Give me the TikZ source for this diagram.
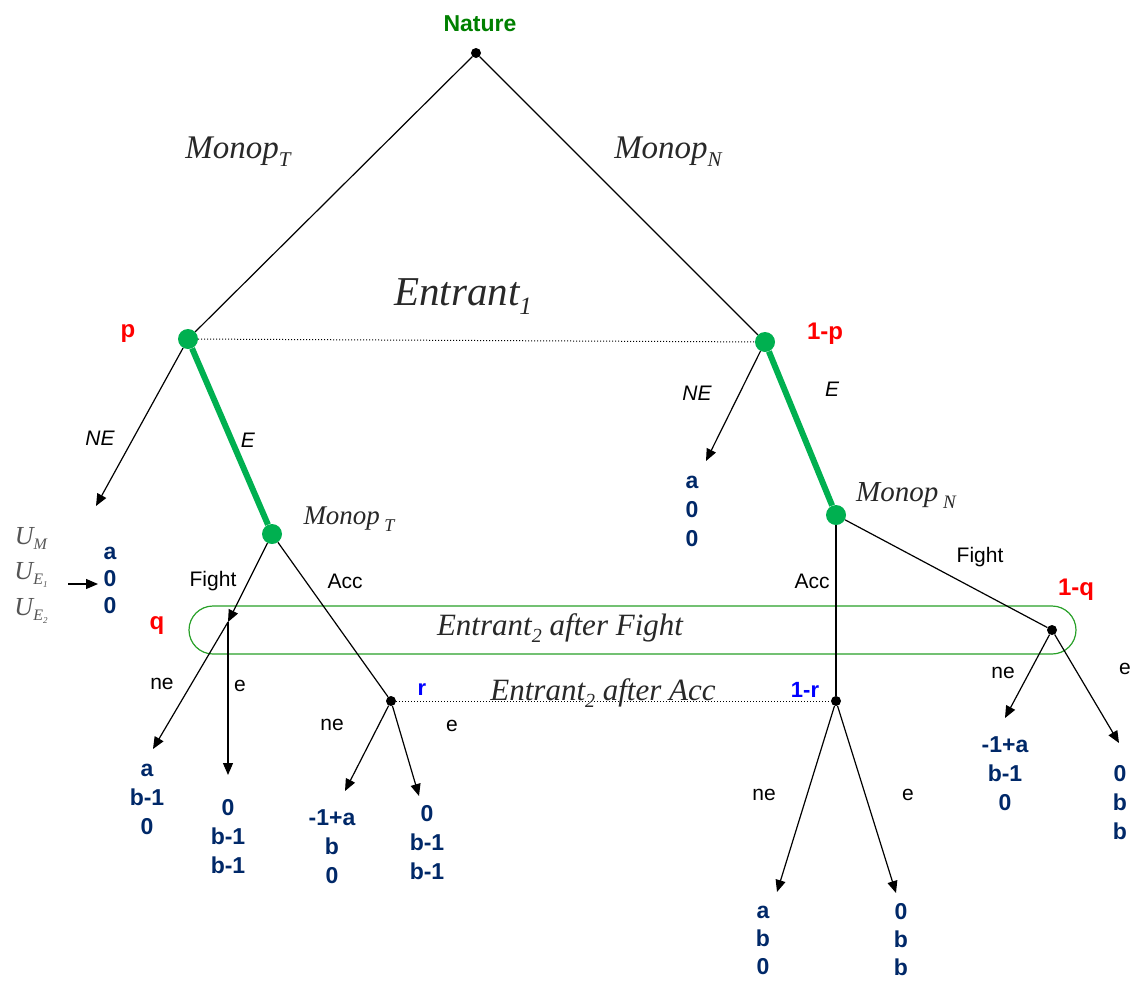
\documentclass[tikz,border=0pt]{standalone}
\usepackage{fontspec}
\setmainfont{Liberation Sans}
\newfontfamily\tms{Liberation Serif}
\usetikzlibrary{arrows.meta}
\definecolor{gnode}{RGB}{0,176,80}
\definecolor{pay}{RGB}{0,40,104}
\definecolor{natg}{RGB}{0,128,0}
\definecolor{ovalg}{RGB}{40,160,40}
\definecolor{ugray}{RGB}{85,85,85}
\definecolor{itc}{RGB}{40,40,40}
\newcommand{\lowtxt}[3]{\raisebox{-#1pt}{\fontsize{#2}{#2}\selectfont #3}}
\begin{document}
\begin{tikzpicture}[x=1pt,y=-1pt,
  dot/.style={circle,fill=black,inner sep=0pt,minimum size=10pt},
  gdot/.style={circle,fill=gnode,inner sep=0pt,minimum size=20pt},
  edge/.style={line width=1.2pt},
  arr/.style={line width=1.2pt,-{Triangle[length=12pt,width=10pt]}},
  gline/.style={gnode,line width=6pt},
  info/.style={dotted,line width=1pt},
  act/.style={font=\fontsize{21}{24}\selectfont},
  pay/.style={text=pay,align=center,font=\bfseries\fontsize{23}{29}\selectfont},
  pays/.style={text=pay,align=center,font=\bfseries\fontsize{23}{27}\selectfont},
  payb/.style={text=pay,align=center,font=\bfseries\fontsize{23}{28}\selectfont},
  prob/.style={text=red,font=\bfseries\fontsize{24}{26}\selectfont},
  probb/.style={text=blue,font=\bfseries\fontsize{22}{24}\selectfont},
  ital/.style={text=itc,font=\tms\itshape}]
\useasboundingbox (0,0) rectangle (1132,980);

% nature
\node[dot] (nat) at (476,53) {};
\node[text=natg,font=\bfseries\fontsize{23}{26}\selectfont] (natl) at (480,24) {Nature};

% entrant 1
\node[gdot] (e1l) at (188,339) {};
\node[gdot] (e1r) at (765,342) {};
\draw[edge] (nat) -- (e1l);
\draw[edge] (nat) -- (e1r);
\draw[info] (e1l) -- (e1r);
\node[ital] (mtl) at (238,152) {\fontsize{33}{33}\selectfont Monop\lowtxt{8}{21}{T}};
\node[ital] (mnl) at (668,152) {\fontsize{33}{33}\selectfont Monop\lowtxt{8}{21}{N}};
\node[ital] (ent1) at (463,297) {\fontsize{41}{41}\selectfont Entrant\lowtxt{9}{25}{1}};
\node[prob] (pl) at (128,334) {p};
\node[prob] (ppl) at (825,334) {1-p};

% monopolist nodes
\node[gdot] (mT) at (272,534) {};
\node[gdot] (mN) at (836,515) {};
\draw[gline] (e1l) -- (mT);
\draw[gline] (e1r) -- (mN);
\node[act] (el) at (248,440) {\itshape E};
\node[act] (er) at (832,389) {\itshape E};
\node[ital] (mTl) at (349,519) {\fontsize{27}{27}\selectfont Monop\,\lowtxt{7}{18}{T}};
\node[ital] (mNl) at (906,495) {\fontsize{29}{29}\selectfont Monop\,\lowtxt{7}{19}{N}};

% NE arrows
\coordinate (neL) at (96,506);
\coordinate (neR) at (706,461);
\draw[arr] (e1l) -- (neL);
\draw[arr] (e1r) -- (neR);
\node[act] (nel) at (100,438) {\itshape NE};
\node[act] (ner) at (697,393) {\itshape NE};
\node[pays] (pNEL) at (110,580) {a\\0\\0};
\node[pay] (pNER) at (692,511) {a\\0\\0};

% utility labels
\node[ital,text=ugray] (um) at (31,538) {\fontsize{26}{26}\selectfont U\lowtxt{5}{16}{M}};
\node[ital,text=ugray] (ue1) at (31,575) {\fontsize{26}{26}\selectfont U\lowtxt{5}{16}{E\lowtxt{3}{9}{1}}};
\node[ital,text=ugray] (ue2) at (31,611) {\fontsize{26}{26}\selectfont U\lowtxt{5}{16}{E\lowtxt{3}{9}{2}}};
\coordinate (ua) at (68,584);
\coordinate (ub) at (98,584);
\draw[arr] (ua) -- (ub);

% information set oval after Fight
\draw[ovalg,line width=1.2pt,rounded corners=24pt] (189,606) rectangle (1076,654);
\node[ital] (ent2f) at (560,628) {\fontsize{31}{31}\selectfont Entrant\lowtxt{7}{20}{2} after Fight};
\node[prob] (ql) at (157,626) {q};
\node[prob] (qql) at (1076,590) {1-q};

% monopolist actions
\coordinate (f1) at (228,622);
\node[dot] (rL) at (391,701) {};
\node[dot] (rR) at (836,701) {};
\node[dot] (qR) at (1052,630) {};
\draw[arr] (mT) -- (f1);
\draw[edge] (mT) -- (rL);
\draw[edge] (mN) -- (rR);
\draw[edge] (mN) -- (qR);
\node[act] (fl) at (213,581) {Fight};
\node[act] (al) at (345,581) {Acc};
\node[act] (ar) at (812,581) {Acc};
\node[act] (fr) at (980,557) {Fight};

% info set after Acc
\draw[info] (rL) -- (rR);
\node[ital] (ent2a) at (603,693) {\fontsize{31}{31}\selectfont Entrant\lowtxt{7}{20}{2} after Acc};
\node[probb] (rl) at (422,690) {r};
\node[probb] (rrl) at (805,690) {1-r};

% entrant 2 moves
\coordinate (t1) at (153,749);
\coordinate (t2) at (228,775);
\coordinate (t3) at (345,791);
\coordinate (t4) at (419,796);
\coordinate (t5) at (1005,718);
\coordinate (t6) at (1119,743);
\coordinate (t7) at (777,892);
\coordinate (t8) at (896,893);
\draw[arr] (f1) -- (t1);
\draw[arr] (f1) -- (t2);
\draw[arr] (rL) -- (t3);
\draw[arr] (rL) -- (t4);
\draw[arr] (qR) -- (t5);
\draw[arr] (qR) -- (t6);
\draw[arr] (rR) -- (t7);
\draw[arr] (rR) -- (t8);
\node[act] (l1) at (162,684) {ne};
\node[act] (l2) at (240,686) {e};
\node[act] (l3) at (332,725) {ne};
\node[act] (l4) at (452,726) {e};
\node[act] (l5) at (1003,673) {ne};
\node[act] (l6) at (1125,669) {e};
\node[act] (l7) at (764,795) {ne};
\node[act] (l8) at (908,795) {e};

% payoffs
\node[pay] (p1) at (147,799) {a\\b-1\\0};
\node[pay] (p2) at (228,837) {0\\b-1\\b-1};
\node[pay] (p3) at (332,847) {-1+a\\b\\0};
\node[pay] (p4) at (427,843) {0\\b-1\\b-1};
\node[pay] (p5) at (1005,774) {-1+a\\b-1\\0};
\node[pay] (p6) at (1120,803) {0\\b\\b};
\node[payb] (p7) at (763,940) {a\\b\\0};
\node[payb] (p8) at (901,940) {0\\b\\b};
\end{tikzpicture}
\end{document}
